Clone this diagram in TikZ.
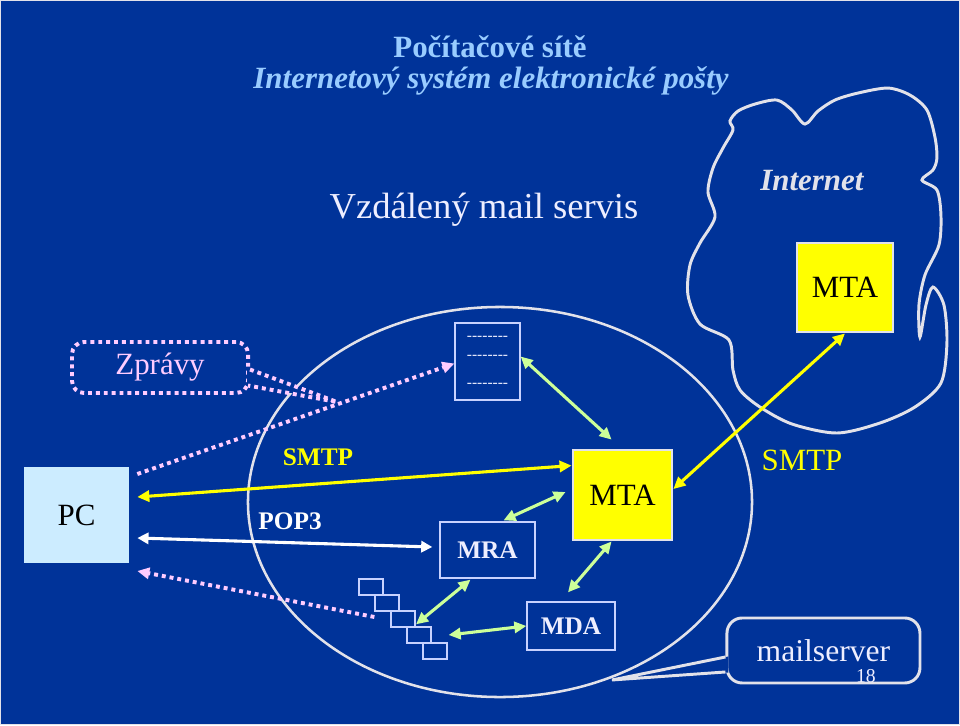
\documentclass[tikz,border=0pt]{standalone}
\usepackage{fontspec}
\setmainfont{Liberation Serif}
\usetikzlibrary{arrows.meta,calc,shapes.geometric}
\definecolor{slideBlue}{HTML}{003399}
\definecolor{titleBlue}{HTML}{99CCFF}
\definecolor{paleText}{HTML}{EEEEFF}
\definecolor{rimGray}{HTML}{E2E2EA}
\definecolor{mtaYellow}{HTML}{FFFF00}
\definecolor{linkGreen}{HTML}{CCFF99}
\definecolor{msgPink}{HTML}{FFCCFF}
\definecolor{pcBlue}{HTML}{CCECFF}
\definecolor{boxLine}{HTML}{C8D2FF}

\tikzset{
  unitbox/.style={draw=boxLine,line width=0.9pt,inner sep=0pt,text=paleText,font=\fontsize{18}{20}\selectfont\bfseries},
  mtabox/.style={draw=rimGray,line width=2pt,fill=mtaYellow,inner sep=0pt,font=\fontsize{22}{24}\selectfont},
  tray/.style={draw=boxLine,line width=0.9pt,inner sep=0pt,minimum width=0.6cm,minimum height=0.4cm},
  greenlink/.style={draw=linkGreen,line width=2.2pt,>={Triangle[length=3mm,width=2.8mm]},<->},
  yellowlink/.style={draw=mtaYellow,line width=2.2pt,>={Triangle[length=3mm,width=2.8mm]},<->},
  whitelink/.style={draw=white,line width=2.2pt,>={Triangle[length=2.8mm,width=2.8mm]},<->},
  msglink/.style={draw=msgPink,line width=2.8pt,dash pattern=on 2.8pt off 2.8pt,-{Triangle[length=3mm,width=2.8mm]}},
  rim/.style={draw=rimGray,line width=2.1pt}
}

\begin{document}
\begin{tikzpicture}[x=0.025cm,y=-0.025cm]
  \fill[slideBlue] (0,0) rectangle (960,725);
  \draw[rimGray,line width=0.8pt] (0.5,0.5) rectangle (959.5,724.5);

  \node[rim,ellipse,minimum width=12.6cm,minimum height=9.75cm,inner sep=0pt,line width=1.8pt] (server) at (500,502) {};
  \draw[rim] plot[smooth cycle,tension=0.5] coordinates {
    (733,130) (730,121) (738,111) (755,104) (777,100) (792,110) (805,124) (818,111)
    (835,100) (858,93) (888,88) (910,95) (927,110) (935,137) (937,158) (933,170)
    (922,180) (937,190) (941,215) (939,245) (925,275) (919,305) (920,337) (926,305)
    (933,287) (944,305) (947,343) (941,383) (915,407) (880,423) (837,433) (792,424)
    (760,407) (740,390) (733,370) (729,340) (700,324) (688,295) (690,265) (700,243)
    (715,217) (708,192) (713,168) (723,148)};

  \node[anchor=base,text=titleBlue,font=\fontsize{22}{26}\selectfont\bfseries] (title) at (490,57) {Počítačové sítě};
  \node[anchor=base,text=titleBlue,font=\fontsize{22}{26}\selectfont\bfseries\itshape] (subtitle) at (491,88) {Internetový systém elektronické pošty};
  \node[anchor=base,text=paleText,font=\fontsize{26}{30}\selectfont] (remote) at (484,218) {Vzdálený mail servis};
  \node[anchor=base,text=rimGray,font=\fontsize{22}{26}\selectfont\bfseries\itshape] (internet) at (812,190) {Internet};

  \node[mtabox,minimum width=2.4cm,minimum height=2.225cm] (mtaNet) at (845,287.5) {MTA};
  \node[mtabox,minimum width=2.475cm,minimum height=2.25cm] (mtaSrv) at (622.5,495) {MTA};
  \node[fill=pcBlue,inner sep=0pt,minimum width=2.625cm,minimum height=2.4cm,font=\fontsize{22}{24}\selectfont] (pc) at (76.5,515) {PC};
  \node[unitbox,minimum width=1.625cm,minimum height=1.925cm,align=center,font=\fontsize{11}{13.5}\selectfont] (msgs) at (487.5,361.5)
    {-{}-{}-{}-{}-{}-{}-{}-\\-{}-{}-{}-{}-{}-{}-{}-\\[6.5pt]-{}-{}-{}-{}-{}-{}-{}-};
  \node[unitbox,minimum width=2.375cm,minimum height=1.4cm] (mra) at (487.5,550) {MRA};
  \node[unitbox,minimum width=2.2cm,minimum height=1.2cm] (mda) at (571,626) {MDA};
  \foreach \i in {1,...,5}
    \node[tray] (tray\i) at ({355+16*\i},{571+16*\i}) {};

  \node[anchor=base,text=mtaYellow,font=\fontsize{18}{20}\selectfont\bfseries] (smtpIn) at (318,465) {SMTP};
  \node[anchor=base,text=white,font=\fontsize{18}{20}\selectfont\bfseries] (pop) at (290,529) {POP3};
  \node[anchor=base,text=mtaYellow,font=\fontsize{22}{24}\selectfont] (smtpOut) at (802,470) {SMTP};

  \draw[yellowlink] ($(pc.east)+(8,-18)$) -- ($(mtaSrv.north west)+(0,17)$);
  \draw[whitelink] ($(pc.east)+(8,23)$) -- ($(mra.west)+(-7,-3)$);
  \draw[msglink] ($(pc.east)+(8,-41)$) -- ($(msgs.west)+(0,2)$);
  \draw[msglink] ($(tray3.west)+(-16,-2)$) -- ($(pc.east)+(8,56)$);
  \draw[yellowlink] ($(mtaSrv.east)+(0,-6)$) -- (mtaNet.south);
  \draw[greenlink] ($(msgs.east)+(0,-5)$) -- ($(mtaSrv.north west)+(40,-9)$);
  \draw[greenlink] ($(mra.north)+(16,-1)$) -- ($(mtaSrv.west)+(-6,-3)$);
  \draw[greenlink] ($(mtaSrv.south west)+(40,0)$) -- ($(mda.north)+(-3,-9)$);
  \draw[greenlink] ($(tray4.north)+(-3,-2)$) -- ($(mra.south)+(-17,1)$);
  \draw[greenlink] ($(tray4.east)+(17,0)$) -- (mda.west);

  \node[draw=msgPink,line width=2.8pt,dash pattern=on 2.8pt off 2.8pt,rounded corners=0.3cm,minimum width=4.4cm,minimum height=1.275cm,
    text=msgPink,font=\fontsize{22}{24}\selectfont] (zpravy) at (160,367.5) {Zprávy};
  \coordinate (msgtip) at (337,402);
  \fill[slideBlue] ($(zpravy.east)+(3,2)$) -- (msgtip) -- ($(zpravy.east)+(3,18)$) -- ($(zpravy.east)+(-3,18)$) -- ($(zpravy.east)+(-3,2)$) -- cycle;
  \draw[draw=msgPink,line width=2.8pt,dash pattern=on 2.8pt off 2.8pt] ($(zpravy.east)+(0,2)$) -- (msgtip) -- ($(zpravy.east)+(-2,18)$);

  \node[rim,rounded corners=0.38cm,minimum width=4.825cm,minimum height=1.625cm,text=paleText,font=\fontsize{22.5}{24}\selectfont] (mailsrv) at (823.5,650.5) {mailserver};
  \coordinate (srvtip) at (612,680);
  \fill[slideBlue] ($(mailsrv.west)+(3,6)$) -- (srvtip) -- ($(mailsrv.west)+(3,22)$) -- cycle;
  \draw[rim,line join=miter] ($(mailsrv.west)+(0,6.5)$) -- (srvtip) -- ($(mailsrv.west)+(0,21.5)$);
  \node[anchor=base,text=paleText,font=\fontsize{14}{16}\selectfont] (pageno) at (866,683) {18};
\end{tikzpicture}
\end{document}
